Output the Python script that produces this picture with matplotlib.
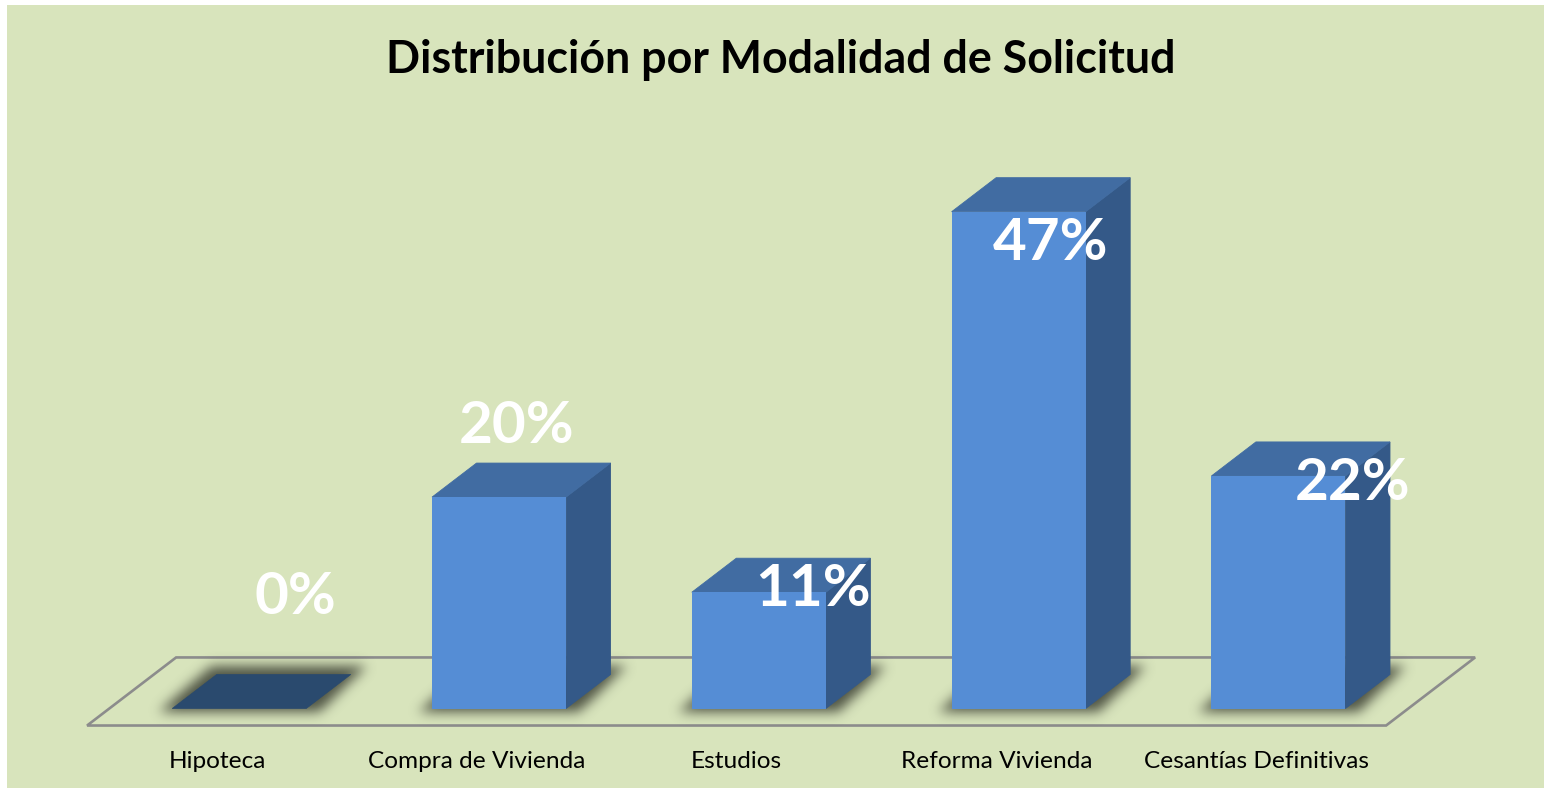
import matplotlib
matplotlib.use("Agg")
import matplotlib.pyplot as plt
from matplotlib.patches import Polygon, Rectangle
from matplotlib.path import Path
import numpy as np

categories = ["Hipoteca", "Compra de Vivienda", "Estudios", "Reforma Vivienda", "Cesantías Definitivas"]
values = [0, 20, 11, 47, 22]
value_labels = ["0%", "20%", "11%", "47%", "22%"]

# label offsets from the top-front centre of each bar, in pixels (manual Excel placement)
label_offsets = [(56, 94), (18, 54), (54, -14), (32, -48), (74, -24)]

W, H, DPI = 1544, 788, 100
bg = "#D8E4BC"
front_c = "#558DD5"
top_c = "#416CA2"
side_c = "#345988"
flat_c = "#2A4A6E"
floor_c = "#8C8C8C"

plt.rcParams['font.family'] = ['Lato', 'DejaVu Sans']

fig = plt.figure(figsize=(W / DPI, H / DPI), dpi=DPI, facecolor="white")
# green chart area, leaving a thin white edge top and left
fig.patches.append(Rectangle((7 / W, 0), 1 - 7 / W, 1 - 5 / H, transform=fig.transFigure,
                             facecolor=bg, edgecolor="none", zorder=-1))
ax = fig.add_axes([0, 0, 1, 1])
ax.set_axis_off()
ax.patch.set_visible(False)

# 1 x-unit = one category (259.8 px), 1 y-unit = 1 % (10.57 px)
px_x, px_y = 259.8, 10.57
x0_px, y0_px = 217, 708.5
ax.set_xlim(-x0_px / px_x, (W - x0_px) / px_x)
ax.set_ylim(-(H - y0_px) / px_y, y0_px / px_y)

half_w = 0.258
ddx, ddy = 0.1713, 3.22   # bar depth vector
n = len(categories)

# floor
floor = [(-0.5, -0.5 * ddy), (n - 0.5, -0.5 * ddy),
         (n - 0.5 + 2 * ddx, 1.5 * ddy), (-0.5 + 2 * ddx, 1.5 * ddy)]
ax.add_patch(Polygon(floor, closed=True, fill=False, edgecolor=floor_c, lw=1.9, zorder=1))

# soft shadows under each bar footprint
fig.canvas.draw()
yy, xx = np.mgrid[0:H, 0:W]
pts = np.column_stack([xx.ravel() + 0.5, yy.ravel() + 0.5])
mask = np.zeros(H * W)
for i in range(n):
    cx = i + 0.5 * ddx
    fp = [(cx - half_w - 0.05, -0.3), (cx + half_w + 0.05, -0.3),
          (cx + half_w + ddx + 0.06, ddy + 0.8), (cx - half_w + ddx - 0.02, ddy + 0.8)]
    disp = ax.transData.transform(fp)
    mask = np.maximum(mask, Path(disp).contains_points(pts).astype(float))
mask = mask.reshape(H, W)
sig = 6.0
k = np.arange(-20, 21)
kern = np.exp(-k ** 2 / (2 * sig ** 2))
kern /= kern.sum()
blur = np.apply_along_axis(lambda r: np.convolve(r, kern, mode="same"), 1, mask)
blur = np.apply_along_axis(lambda c: np.convolve(c, kern, mode="same"), 0, blur)
shadow = np.zeros((H, W, 4))
shadow[..., 0] = 45 / 255
shadow[..., 1] = 48 / 255
shadow[..., 2] = 38 / 255
shadow[..., 3] = np.clip(blur * 0.8, 0, 1)
xl, yl = ax.get_xlim(), ax.get_ylim()
ax.imshow(shadow, extent=(xl[0], xl[1], yl[0], yl[1]), origin="lower",
          aspect="auto", interpolation="bilinear", zorder=2)
ax.set_xlim(xl)
ax.set_ylim(yl)

# bars
for i, v in enumerate(values):
    cx = i + 0.5 * ddx
    xa, xb = cx - half_w, cx + half_w
    if v == 0:
        ax.add_patch(Polygon([(xa, 0), (xb, 0), (xb + ddx, ddy), (xa + ddx, ddy)],
                             facecolor=flat_c, edgecolor=flat_c, lw=0.5, zorder=3))
    else:
        ax.add_patch(Polygon([(xb, 0), (xb + ddx, ddy), (xb + ddx, v + ddy), (xb, v)],
                             facecolor=side_c, edgecolor=side_c, lw=0.6, zorder=3))
        ax.add_patch(Polygon([(xa, v), (xb, v), (xb + ddx, v + ddy), (xa + ddx, v + ddy)],
                             facecolor=top_c, edgecolor=top_c, lw=0.6, zorder=3))
        ax.add_patch(Rectangle((xa, 0), xb - xa, v, facecolor=front_c,
                               edgecolor="none", zorder=4))
    ox, oy = label_offsets[i]
    ax.annotate(value_labels[i], (cx, v), xytext=(ox, oy), textcoords="offset pixels",
                ha="center", va="baseline", color="white", fontsize=42,
                fontweight="bold", zorder=6)
    ax.text(i, -5.0, categories[i], ha="center", va="center", fontsize=17.6,
            color="black", zorder=6)

ax.text((781 - x0_px) / px_x, 61.4,
        "Distribución por Modalidad de Solicitud", ha="center", va="center",
        fontsize=32.2, fontweight="bold", color="black", zorder=6)

fig.savefig("out.png", dpi=DPI, facecolor="white")
